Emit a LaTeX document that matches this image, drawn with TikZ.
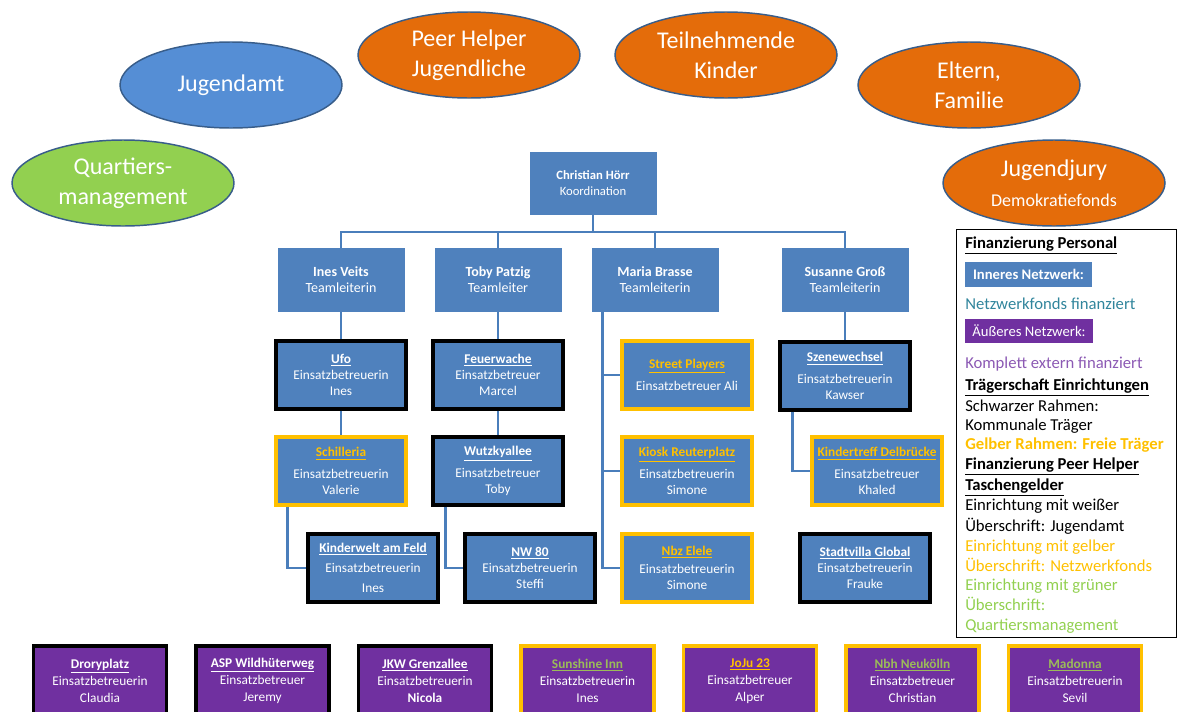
\documentclass[tikz,border=0pt]{standalone}
\usepackage{fontspec}
\setmainfont{Carlito}
\usetikzlibrary{shapes.geometric,calc}
\definecolor{boxblue}{HTML}{4F81BD}
\definecolor{ovalblue}{HTML}{558ED5}
\definecolor{ovalorange}{HTML}{E46C0A}
\definecolor{ovalgreen}{HTML}{92D050}
\definecolor{ovalline}{HTML}{385D8A}
\definecolor{linkblue}{HTML}{4A7EBB}
\definecolor{frei}{HTML}{FFC000}
\definecolor{aussen}{HTML}{7030A0}
\definecolor{fonds}{HTML}{31859C}
\definecolor{extern}{HTML}{8C5AB4}
\definecolor{qm}{HTML}{92D050}
\definecolor{qmhead}{HTML}{9BBB59}
\newcommand{\hd}[1]{\textbf{\underline{#1}}}
\newcommand{\yhd}[1]{\textcolor{frei}{\hd{#1}}}
\newcommand{\ghd}[1]{\textcolor{qmhead}{\hd{#1}}}

\begin{document}
\begin{tikzpicture}[x=0.75pt,y=-0.75pt]
\tikzset{
  oval/.style={ellipse, draw=ovalline, line width=1.1pt, minimum width=166.5pt, minimum height=64.5pt,
    inner sep=0pt, text=white, align=center, font=\fontsize{18}{22.5}\selectfont},
  box/.style={rectangle, fill=boxblue, text=white, align=center, inner sep=1pt, font=\fontsize{10}{12}\selectfont},
  lead/.style={box, minimum width=95.25pt, minimum height=48pt, font=\fontsize{10.5}{12}\selectfont},
  einr/.style={box, minimum width=97.5pt, minimum height=51pt, line width=2.4pt},
  kommunal/.style={einr, draw=black},
  freitr/.style={einr, draw=frei},
  ext/.style={box, fill=aussen, minimum width=99.75pt, minimum height=52.5pt, line width=2.4pt,
    font=\fontsize{10}{12.75}\selectfont},
  conn/.style={draw=linkblue, line width=2.2pt},
  leg/.style={anchor=west, inner sep=0pt, text height=9pt, text depth=2.5pt, font=\fontsize{12.5}{15}\selectfont},
}
\useasboundingbox (0,0) rectangle (1177,711);
\clip (0,0) rectangle (1177,711);

\node[oval, fill=ovalblue] (jamt) at (231,85) {Jugendamt};
\node[oval, fill=ovalorange] (peer) at (469,55) {Peer Helper\\Jugendliche};
\node[oval, fill=ovalorange] (kinder) at (726,55) {Teilnehmende\\Kinder};
\node[oval, fill=ovalorange] (eltern) at (969,85) {Eltern,\\Familie};
\node[oval, fill=ovalgreen] (qm) at (123,183) {Quartiers-\\management};
\node[oval, fill=ovalorange] (jury) at (1054,183) {Jugendjury\\{\fontsize{13.5}{15}\selectfont Demokratiefonds}};

\node[box, minimum width=95.25pt, minimum height=47.25pt, font=\fontsize{9.5}{11.5}\selectfont] (chr) at (593,183)
  {\textbf{Christian Hörr}\\Koordination};

\node[lead] (ines) at (341,280) {\textbf{Ines Veits}\\Teamleiterin};
\node[lead] (toby) at (498,280) {\textbf{Toby Patzig}\\Teamleiter};
\node[lead] (maria) at (655,280) {\textbf{Maria Brasse}\\Teamleiterin};
\node[lead] (sus) at (845,280) {\textbf{Susanne Groß}\\Teamleiterin};

\node[kommunal] (ufo) at (341,375) {\hd{Ufo}\\Einsatzbetreuerin\\Ines};
\node[kommunal] (feuer) at (498,375) {\hd{Feuerwache}\\Einsatzbetreuer\\Marcel};
\node[freitr] (street) at (687,375) {\yhd{Street Players}\\[5pt]Einsatzbetreuer Ali};
\node[kommunal] (szene) at (845,376) {\hd{Szenewechsel}\\[4pt]Einsatzbetreuerin\\Kawser};

\node[freitr] (schil) at (341,471) {\yhd{Schilleria}\\[4pt]Einsatzbetreuerin\\Valerie};
\node[kommunal] (wutz) at (498,471) {\hd{Wutzkyallee}\\[4pt]Einsatzbetreuer\\Toby};
\node[freitr] (kiosk) at (687,471) {\yhd{Kiosk Reuterplatz}\\[4pt]Einsatzbetreuerin\\Simone};
\node[freitr] (ktreff) at (877,471) {\yhd{Kindertreff Delbrücke}\\[4pt]Einsatzbetreuer\\Khaled};

\node[kommunal] (kwelt) at (373,568) {\hd{Kinderwelt am Feld}\\[3pt]Einsatzbetreuerin\\[3pt]Ines};
\node[kommunal] (nw) at (530,568) {\hd{NW 80}\\Einsatzbetreuerin\\Steffi};
\node[freitr] (nbz) at (687,568) {\yhd{Nbz Elele}\\[2pt]Einsatzbetreuerin\\Simone};
\node[kommunal] (villa) at (865,568) {\hd{Stadtvilla Global}\\Einsatzbetreuerin\\Frauke};

\node[ext, draw=black] (drory) at (100,681) {\hd{Droryplatz}\\Einsatzbetreuerin\\Claudia};
\node[ext, draw=black] (asp) at (262.5,681) {\hd{ASP Wildhüterweg}\\Einsatzbetreuer\\Jeremy};
\node[ext, draw=black] (jkw) at (425,681) {\hd{JKW Grenzallee}\\Einsatzbetreuerin\\\textbf{Nicola}};
\node[ext, draw=frei] (sunshine) at (587.5,681) {\ghd{Sunshine Inn}\\Einsatzbetreuerin\\Ines};
\node[ext, draw=frei] (joju) at (750,681) {\yhd{JoJu 23}\\Einsatzbetreuer\\Alper};
\node[ext, draw=frei] (nbh) at (912.5,681) {\ghd{Nbh Neukölln}\\Einsatzbetreuer\\Christian};
\node[ext, draw=frei] (madonna) at (1075,681) {\ghd{Madonna}\\Einsatzbetreuerin\\Sevil};

\coordinate (bus) at (593,232);
\draw[conn] (chr.south) -- (bus);
\draw[conn] (ines.north) |- (bus) -| (sus.north);
\draw[conn] (toby.north) -- (toby.north |- bus);
\draw[conn] (maria.north) -- (maria.north |- bus);
\draw[conn] (ines) -- (ufo);
\draw[conn] (ufo) -- (schil);
\draw[conn] (toby) -- (feuer);
\draw[conn] (feuer) -- (wutz);
\draw[conn] (sus) -- (szene);
\draw[conn] ($(maria.south west)+(11,0)$) coordinate (mtrunk) |- (nbz.west);
\draw[conn] (mtrunk |- street.west) -- (street.west);
\draw[conn] (mtrunk |- kiosk.west) -- (kiosk.west);
\draw[conn] ($(schil.south west)+(13,0)$) |- (kwelt.west);
\draw[conn] ($(wutz.south west)+(14,0)$) |- (nw.west);
\draw[conn] ($(szene.south west)+(14,0)$) |- (ktreff.west);

\draw (956,229) rectangle (1176,637);
\node[leg] (lfin) at (965,244) {\hd{Finanzierung Personal}};
\node[box, minimum width=95.25pt, minimum height=18.75pt, font=\fontsize{11}{13}\selectfont\bfseries] (linner) at (1028.5,274.5) {Inneres Netzwerk:};
\node[leg, text=fonds] (lfonds) at (965,305) {Netzwerkfonds finanziert};
\node[box, fill=aussen, minimum width=96pt, minimum height=18pt, font=\fontsize{11}{13}\selectfont] (laussen) at (1029,331) {Äußeres Netzwerk:};
\node[leg, text=extern] (lext) at (965,364) {Komplett extern finanziert};
\node[leg] (ltraeger) at (965,386) {\hd{Trägerschaft Einrichtungen}};
\node[leg] (lschwarz) at (965,407) {Schwarzer Rahmen:};
\node[leg] (lkommunal) at (965,426) {Kommunale Träger};
\node[leg, text=frei] (lgelb) at (965,445) {\textbf{Gelber Rahmen: Freie Träger}};
\node[leg] (lpeer) at (965,465) {\hd{Finanzierung Peer Helper}};
\node[leg] (ltaschen) at (965,486) {\hd{Taschengelder}};
\node[leg] (lweiss1) at (965,506) {Einrichtung mit weißer};
\node[leg] (lweiss2) at (965,527) {Überschrift: Jugendamt};
\node[leg, text=frei] (lgelb1) at (965,547) {Einrichtung mit gelber};
\node[leg, text=frei] (lgelb2) at (965,567) {Überschrift: Netzwerkfonds};
\node[leg, text=qm] (lgruen1) at (965,586) {Einrichtung mit grüner};
\node[leg, text=qm] (lgruen2) at (965,606) {Überschrift:};
\node[leg, text=qm] (lgruen3) at (965,626) {Quartiersmanagement};
\end{tikzpicture}
\end{document}
